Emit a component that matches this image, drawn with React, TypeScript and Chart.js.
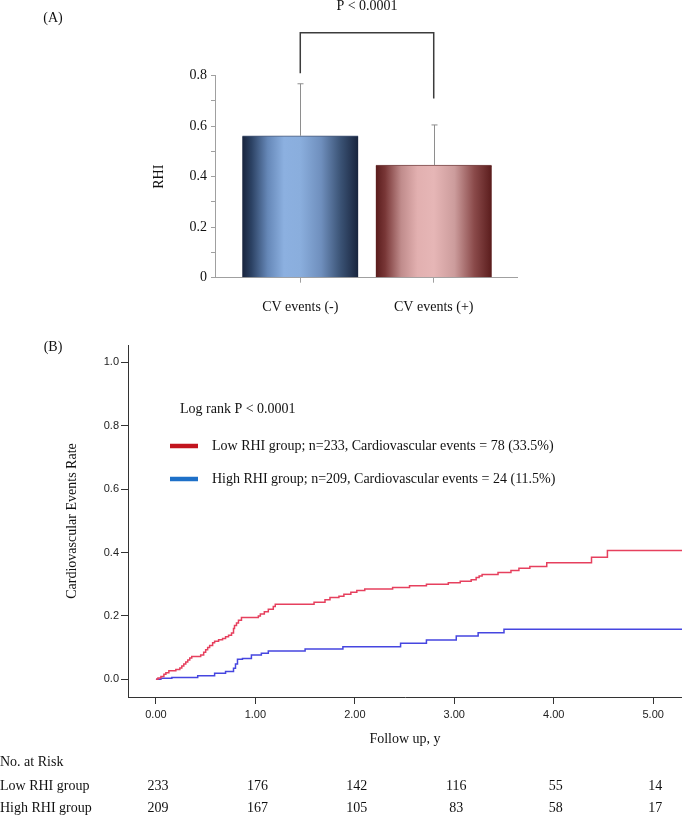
import React, { useEffect, useRef } from 'react';
import { Chart, registerables } from 'chart.js';

Chart.register(...registerables);

const SERIF = '"Liberation Serif", "Times New Roman", serif';
const SANS = '"Liberation Sans", Arial, sans-serif';

// ---------- Panel A data ----------
const rhiCategories = ['CV events (-)', 'CV events (+)'];
const rhiX = [1, 2];
const rhiMeans = [0.562, 0.446];
const rhiSDs = [0.206, 0.159];
const rhiTicks = [0, 0.1, 0.2, 0.3, 0.4, 0.5, 0.6, 0.7, 0.8];
const rhiTickLabels = ['0', '', '0.2', '', '0.4', '', '0.6', '', '0.8'];
const pValueText = 'P < 0.0001';
const bracketTop = 0.97;
const bracketLegEnds = [0.81, 0.71];

// ---------- Panel B data ----------
const lowRhiTimes = [0, 0.02, 0.05, 0.08, 0.1, 0.13, 0.2, 0.24, 0.26, 0.28, 0.3, 0.32, 0.34, 0.36, 0.45, 0.48, 0.5, 0.52, 0.54, 0.57, 0.59, 0.63, 0.67, 0.7, 0.73, 0.76, 0.78, 0.79, 0.81, 0.83, 0.86, 1.03, 1.05, 1.09, 1.13, 1.18, 1.2, 1.59, 1.7, 1.75, 1.84, 1.89, 1.96, 2.02, 2.1, 2.38, 2.55, 2.72, 2.94, 3.06, 3.17, 3.22, 3.25, 3.28, 3.44, 3.57, 3.65, 3.76, 3.93, 4.38, 4.54, 5.29];
const lowRhiRates = [0, 0.004, 0.009, 0.016, 0.021, 0.027, 0.031, 0.036, 0.042, 0.048, 0.055, 0.061, 0.067, 0.072, 0.077, 0.085, 0.093, 0.1, 0.107, 0.115, 0.12, 0.125, 0.129, 0.134, 0.139, 0.146, 0.16, 0.17, 0.178, 0.186, 0.195, 0.2, 0.206, 0.213, 0.221, 0.23, 0.237, 0.243, 0.251, 0.258, 0.262, 0.268, 0.275, 0.28, 0.285, 0.29, 0.295, 0.3, 0.305, 0.309, 0.314, 0.321, 0.326, 0.331, 0.337, 0.343, 0.35, 0.356, 0.368, 0.385, 0.406, 0.406];
const highRhiTimes = [0, 0.05, 0.16, 0.42, 0.59, 0.7, 0.78, 0.8, 0.82, 0.87, 0.96, 1.06, 1.13, 1.5, 1.88, 2.46, 2.72, 3.02, 3.24, 3.5, 5.29];
const highRhiRates = [0, 0.003, 0.006, 0.011, 0.019, 0.025, 0.035, 0.048, 0.063, 0.066, 0.077, 0.082, 0.089, 0.096, 0.103, 0.114, 0.124, 0.137, 0.147, 0.158, 0.158];
const followUpTicks = [0, 1, 2, 3, 4, 5];
const rateTicks = [0, 0.2, 0.4, 0.6, 0.8, 1.0];
const riskTimes = [0, 1, 2, 3, 4, 5];
const lowRhiAtRisk = [233, 176, 142, 116, 55, 14];
const highRhiAtRisk = [209, 167, 105, 83, 58, 17];
const seriesNames = ['Low RHI group', 'High RHI group'];
const legendTexts = [
  'Low RHI group; n=233, Cardiovascular events = 78 (33.5%)',
  'High RHI group; n=209, Cardiovascular events = 24 (11.5%)',
];
const logRankText = 'Log rank P < 0.0001';

// ---------- styles ----------
const W = 682;
const A_TOP = 0;
const A_H = 320;
const B_TOP = 330;
const B_H = 488;
const BAR_W = 116;
const blueStops: [number, string][] = [
  [0, '#18243d'], [0.08, '#2c4264'], [0.22, '#6688b8'], [0.36, '#8cb0e0'], [0.5, '#8aaedd'],
  [0.68, '#6f8fbd'], [0.85, '#3a5274'], [1, '#18243d'],
];
const redStops: [number, string][] = [
  [0, '#5a1c1c'], [0.08, '#783636'], [0.22, '#c08c8c'], [0.36, '#e2b0b0'], [0.5, '#e6b6b6'],
  [0.68, '#cc9c9c'], [0.85, '#8a4a4a'], [1, '#5a1c1c'],
];
const barStops = [blueStops, redStops];

function txt(ctx: CanvasRenderingContext2D, s: string, x: number, y: number, align: CanvasTextAlign, size = 14, font = SERIF, color = '#111') {
  ctx.save();
  ctx.font = `${size}px ${font}`;
  ctx.fillStyle = color;
  ctx.textAlign = align;
  ctx.textBaseline = 'middle';
  ctx.fillText(s, x, y);
  ctx.restore();
}

function PanelA() {
  const ref = useRef<HTMLCanvasElement>(null);
  useEffect(() => {
    const canvas = ref.current!;
    const overlay = {
      id: 'panelAOverlay',
      afterDatasetsDraw(chart: any) {
        const ctx = chart.ctx as CanvasRenderingContext2D;
        const xs = chart.scales.x;
        const ys = chart.scales.y;
        // error bars
        ctx.save();
        ctx.strokeStyle = '#8e8e8e';
        ctx.lineWidth = 1;
        rhiMeans.forEach((m, i) => {
          const x = Math.round(xs.getPixelForValue(rhiX[i])) + 0.5;
          const y0 = ys.getPixelForValue(m);
          const y1 = ys.getPixelForValue(m + rhiSDs[i]);
          ctx.beginPath();
          ctx.moveTo(x, y0);
          ctx.lineTo(x, y1);
          ctx.moveTo(x - 3, y1);
          ctx.lineTo(x + 3, y1);
          ctx.stroke();
        });
        ctx.restore();
        // bracket
        const xl = xs.getPixelForValue(rhiX[0]);
        const xr = xs.getPixelForValue(rhiX[1]);
        const yt = ys.getPixelForValue(bracketTop);
        ctx.save();
        ctx.strokeStyle = '#3c3c3c';
        ctx.lineWidth = 1.5;
        ctx.beginPath();
        ctx.moveTo(xl, ys.getPixelForValue(bracketLegEnds[0]));
        ctx.lineTo(xl, yt);
        ctx.lineTo(xr, yt);
        ctx.lineTo(xr, ys.getPixelForValue(bracketLegEnds[1]));
        ctx.stroke();
        ctx.restore();
        txt(ctx, pValueText, (xl + xr) / 2, 6, 'center', 14);
        txt(ctx, '(A)', 53, 18, 'center', 14);
      },
    };
    const chart = new Chart(canvas, {
      type: 'bar',
      data: {
        datasets: [
          {
            data: rhiMeans.map((m, i) => ({ x: rhiX[i], y: m })),
            backgroundColor: (c: any) => {
              const ch = c.chart;
              const xs = ch.scales?.x;
              const idx = c.dataIndex ?? 0;
              if (!xs || !ch.chartArea) return idx === 0 ? '#8cb0e0' : '#e2b0b0';
              const cx = xs.getPixelForValue(rhiX[idx]);
              const g = ch.ctx.createLinearGradient(cx - BAR_W / 2, 0, cx + BAR_W / 2, 0);
              barStops[idx].forEach(([o, col]) => g.addColorStop(o, col));
              return g;
            },
            borderColor: ['#4a5a78', '#7a4a4a'],
            borderWidth: { top: 1, left: 0, right: 0, bottom: 0 },
            borderSkipped: false,
            barThickness: BAR_W,
          } as any,
        ],
      },
      options: {
        responsive: false,
        maintainAspectRatio: false,
        animation: false,
        events: [],
        layout: { padding: { left: 0, right: W - 517, top: 75.7, bottom: 0 } },
        plugins: { legend: { display: false }, tooltip: { enabled: false } },
        scales: {
          x: {
            type: 'linear',
            min: 0.361,
            max: 2.624,
            offset: false,
            afterBuildTicks: (s: any) => { s.ticks = rhiX.map((v) => ({ value: v })); },
            afterFit: (s: any) => { s.height = A_H - 277.7; },
            ticks: {
              callback: (v: any) => rhiCategories[rhiX.indexOf(Number(v))] ?? '',
              font: { family: SERIF, size: 14 },
              color: '#111',
              padding: 16,
              maxRotation: 0,
              autoSkip: false,
            },
            grid: { display: true, drawOnChartArea: false, drawTicks: true, tickLength: 5, color: '#a0a0a0', offset: false },
            border: { display: true, color: '#a0a0a0', width: 1 },
          },
          y: {
            type: 'linear',
            min: 0,
            max: 0.8,
            afterBuildTicks: (s: any) => { s.ticks = rhiTicks.map((v) => ({ value: v })); },
            afterFit: (s: any) => { s.width = 215; },
            ticks: {
              callback: (_v: any, i: number) => rhiTickLabels[i],
              font: { family: SERIF, size: 14 },
              color: '#111',
              padding: 4,
              autoSkip: false,
            },
            grid: { display: true, drawOnChartArea: false, drawTicks: true, tickLength: 4, color: '#a0a0a0' },
            border: { display: true, color: '#a0a0a0', width: 1 },
            title: { display: true, text: 'RHI', font: { family: SERIF, size: 14 }, color: '#111', padding: { top: 150.6, bottom: 0 } },
          },
        },
      } as any,
      plugins: [overlay],
    });
    return () => chart.destroy();
  }, []);
  return <canvas ref={ref} width={W} height={A_H} style={{ position: 'absolute', left: 0, top: A_TOP, width: W, height: A_H }} />;
}

function PanelB() {
  const ref = useRef<HTMLCanvasElement>(null);
  useEffect(() => {
    const canvas = ref.current!;
    const off = B_TOP;
    const overlay = {
      id: 'panelBOverlay',
      afterDraw(chart: any) {
        const ctx = chart.ctx as CanvasRenderingContext2D;
        const xs = chart.scales.x;
        txt(ctx, '(B)', 53, 347 - off, 'center', 14);
        // legend
        txt(ctx, logRankText, 180, 409.5 - off, 'left', 14);
        const swatch = ['#c2141e', '#1e70c8'];
        const rows = [446, 479];
        rows.forEach((ry, i) => {
          ctx.save();
          ctx.strokeStyle = swatch[i];
          ctx.lineWidth = 4.5;
          ctx.beginPath();
          ctx.moveTo(170, ry - off);
          ctx.lineTo(198, ry - off);
          ctx.stroke();
          ctx.restore();
          txt(ctx, legendTexts[i], 212, ry - off, 'left', 14);
        });
        // at-risk table
        txt(ctx, 'No. at Risk', 0, 762 - off, 'left', 14);
        const tableRows = [lowRhiAtRisk, highRhiAtRisk];
        const tableY = [786, 808];
        tableRows.forEach((vals, r) => {
          txt(ctx, seriesNames[r], 0, tableY[r] - off, 'left', 14);
          vals.forEach((n, i) => {
            txt(ctx, String(n), xs.getPixelForValue(riskTimes[i]) + 2, tableY[r] - off, 'center', 14);
          });
        });
      },
    };
    const chart = new Chart(canvas, {
      type: 'line',
      data: {
        datasets: [
          {
            label: seriesNames[0],
            data: lowRhiTimes.map((t, i) => ({ x: t, y: lowRhiRates[i] })),
            borderColor: '#e6405e',
            borderWidth: 1.5,
            pointRadius: 0,
            stepped: 'before',
            fill: false,
          },
          {
            label: seriesNames[1],
            data: highRhiTimes.map((t, i) => ({ x: t, y: highRhiRates[i] })),
            borderColor: '#4646e0',
            borderWidth: 1.5,
            pointRadius: 0,
            stepped: 'before',
            fill: false,
          },
        ],
      },
      options: {
        responsive: false,
        maintainAspectRatio: false,
        animation: false,
        events: [],
        layout: { padding: { left: 0, right: 0, top: 345 - off, bottom: 0 } },
        plugins: { legend: { display: false }, tooltip: { enabled: false } },
        scales: {
          x: {
            type: 'linear',
            min: -0.281,
            max: 5.29,
            afterBuildTicks: (s: any) => { s.ticks = followUpTicks.map((v) => ({ value: v })); },
            afterFit: (s: any) => { s.height = B_H - (697 - off); },
            ticks: {
              callback: (v: any) => Number(v).toFixed(2),
              font: { family: SANS, size: 11 },
              color: '#222',
              padding: 4,
              maxRotation: 0,
              autoSkip: false,
            },
            grid: { display: true, drawOnChartArea: false, drawTicks: true, tickLength: 7, color: '#333' },
            border: { display: true, color: '#333', width: 1 },
            title: { display: true, text: 'Follow up, y', font: { family: SERIF, size: 14 }, color: '#111', padding: { top: 0, bottom: 70.6 } },
          },
          y: {
            type: 'linear',
            min: -0.0558,
            max: 1.0546,
            afterBuildTicks: (s: any) => { s.ticks = rateTicks.map((v) => ({ value: v })); },
            afterFit: (s: any) => { s.width = 128; },
            ticks: {
              callback: (v: any) => Number(v).toFixed(1),
              font: { family: SANS, size: 11 },
              color: '#222',
              padding: 2,
              autoSkip: false,
            },
            grid: { display: true, drawOnChartArea: false, drawTicks: true, tickLength: 7, color: '#333' },
            border: { display: true, color: '#333', width: 1 },
            title: { display: true, text: 'Cardiovascular Events Rate', font: { family: SERIF, size: 14 }, color: '#111', padding: { top: 63.6, bottom: 0 } },
          },
        },
      } as any,
      plugins: [overlay],
    });
    return () => chart.destroy();
  }, []);
  return <canvas ref={ref} width={W} height={B_H} style={{ position: 'absolute', left: 0, top: B_TOP, width: W, height: B_H }} />;
}

export default function App() {
  return (
    <div style={{ position: 'absolute', left: 0, top: 0, width: W, height: 818, background: '#fff', overflow: 'hidden' }}>
      <PanelA />
      <PanelB />
    </div>
  );
}
